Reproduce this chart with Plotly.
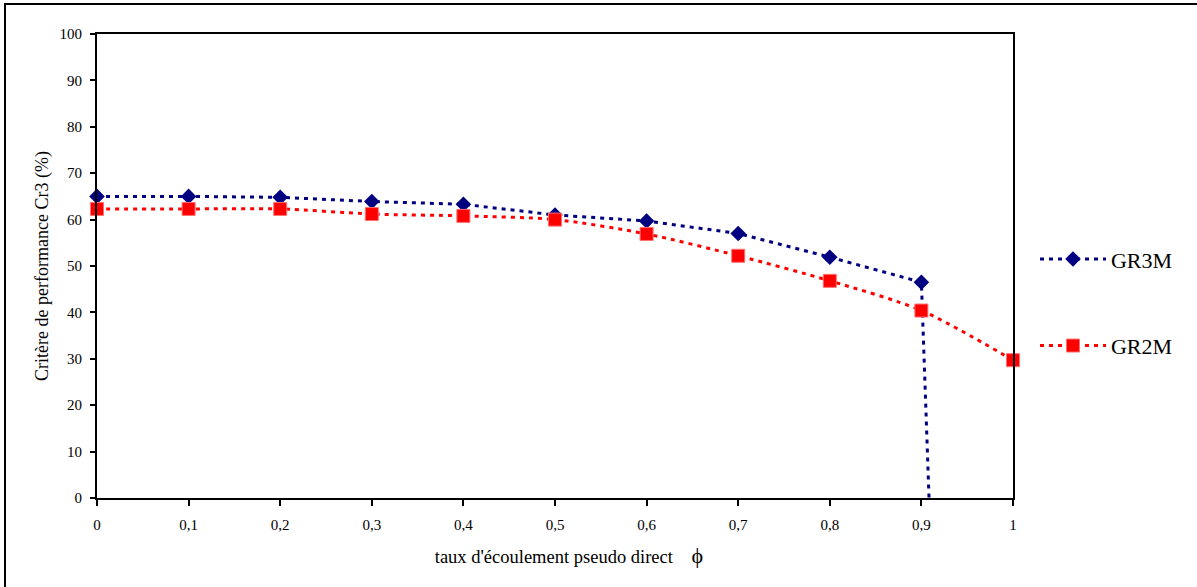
import plotly.graph_objects as go

phi = [0, 0.1, 0.2, 0.3, 0.4, 0.5, 0.6, 0.7, 0.8, 0.9, 1.0]
gr3m = [65.0, 65.0, 64.8, 63.9, 63.3, 61.0, 59.7, 57.0, 51.9, 46.5, -512.0]
gr2m = [62.3, 62.3, 62.3, 61.2, 60.8, 60.0, 56.9, 52.2, 46.8, 40.4, 29.7]

x_tickvals = [0, 0.1, 0.2, 0.3, 0.4, 0.5, 0.6, 0.7, 0.8, 0.9, 1.0]
x_ticktext = ["0", "0,1", "0,2", "0,3", "0,4", "0,5", "0,6", "0,7", "0,8", "0,9", "1"]
y_tickvals = [0, 10, 20, 30, 40, 50, 60, 70, 80, 90, 100]

FONT = "Liberation Serif, Times New Roman, serif"

# plot area at screen x 97..1013, y 34..498 (body margin removed below)
L, T, PW, PH = 97, 34, 916, 464

fig = go.Figure()
fig.add_trace(go.Scatter(
    x=phi, y=gr3m, name="GR3M", mode="lines+markers",
    line=dict(color="#000080", width=3, dash="4px,5px", shape="linear"),
    marker=dict(symbol="diamond", size=12, color="#000080"),
    cliponaxis=False, legendgroup="a",
))
fig.add_trace(go.Scatter(
    x=phi, y=gr2m, name="GR2M", mode="lines+markers",
    line=dict(color="#ff0000", width=3, dash="4px,5px", shape="spline", smoothing=0.8),
    marker=dict(symbol="square", size=13, color="#ff0000", line=dict(color="#ff7070", width=1)),
    cliponaxis=False, legendgroup="b",
))

fig.update_layout(
    width=1197, height=587,
    margin=dict(l=L, r=1197 - L - PW, t=T, b=587 - T - PH),
    paper_bgcolor="white", plot_bgcolor="white",
    font=dict(family=FONT, color="black", size=15),
    showlegend=True,
    legend=dict(
        x=1.024, xanchor="left", y=0.56, yanchor="top",
        font=dict(family=FONT, size=22, color="black"),
        tracegroupgap=55, traceorder="grouped",
        bgcolor="rgba(0,0,0,0)", itemwidth=66,
    ),
    xaxis=dict(
        range=[0, 1], tickvals=x_tickvals, ticktext=x_ticktext,
        showgrid=False, zeroline=False, showline=True, linecolor="black", linewidth=2,
        mirror=True, ticks="outside", ticklen=6, tickwidth=1.5, tickcolor="black",
        tickfont=dict(family=FONT, size=15), ticklabelstandoff=6,
        title=dict(text="&nbsp;&nbsp;&nbsp;&nbsp;&nbsp;&nbsp;taux d'écoulement pseudo direct&nbsp;&nbsp;&nbsp;&nbsp;<span style='font-size:22px'>ϕ</span>",
                   font=dict(family=FONT, size=18.5), standoff=18),
    ),
    yaxis=dict(
        range=[0, 100], tickvals=y_tickvals,
        showgrid=False, zeroline=False, showline=True, linecolor="black", linewidth=2,
        mirror=True, ticks="outside", ticklen=5, tickwidth=1.5, tickcolor="black",
        tickfont=dict(family=FONT, size=15), ticklabelstandoff=5,
        title=dict(text="Critère de performance Cr3 (%)", font=dict(family=FONT, size=18), standoff=6),
    ),
    shapes=[dict(type="rect", xref="paper", yref="paper",
                 x0=(5 - L) / PW, x1=(1260 - L) / PW,
                 y0=(T + PH - 640) / PH, y1=(T + PH - 4) / PH,
                 line=dict(color="black", width=2), fillcolor="rgba(0,0,0,0)", layer="below")],
)

fig.write_html("out.html", config={"displayModeBar": False},
               post_script="document.body.style.margin='0';document.body.style.overflow='hidden';")
